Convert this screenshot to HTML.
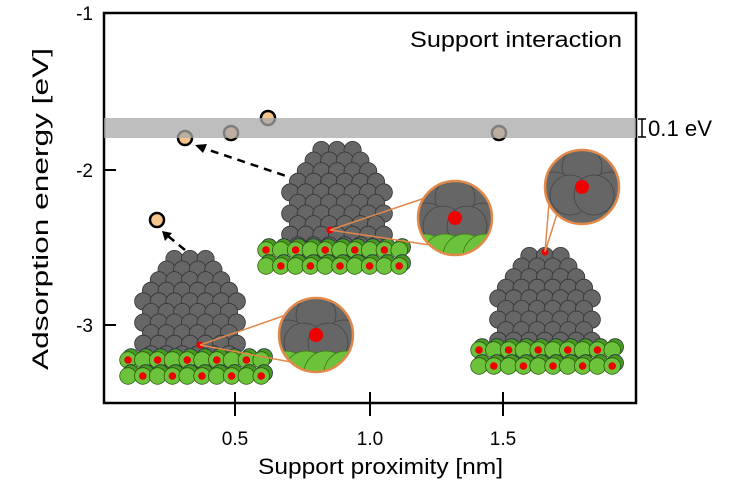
<!DOCTYPE html>
<html><head><meta charset="utf-8"><style>
html,body{margin:0;padding:0;background:#fff;width:739px;height:493px;overflow:hidden}
svg{display:block;font-family:"Liberation Sans",sans-serif}
</style></head><body>
<svg id="s" width="739" height="493" viewBox="0 0 739 493" xmlns="http://www.w3.org/2000/svg">
<defs>
<clipPath id="c1"><circle cx="455" cy="218" r="37"/></clipPath>
<clipPath id="c2"><circle cx="582" cy="187" r="37"/></clipPath>
<clipPath id="c3"><circle cx="316" cy="335" r="37"/></clipPath>
</defs>
<rect x="104" y="13" width="532" height="390" fill="none" stroke="#000" stroke-width="2.5"/>
<g stroke="#000" stroke-width="2">
<line x1="104" y1="170" x2="116" y2="170"/><line x1="104" y1="325" x2="116" y2="325"/>
<line x1="235" y1="392" x2="235" y2="416"/><line x1="370" y1="392" x2="370" y2="416"/><line x1="503" y1="392" x2="503" y2="416"/>
</g>
<g font-size="19" fill="#000" text-anchor="end">
<text x="93" y="20">-1</text><text x="93" y="177">-2</text><text x="93" y="332">-3</text>
</g>
<g font-size="19" text-anchor="middle">
<text x="235" y="445">0.5</text><text x="370" y="445">1.0</text><text x="503" y="445">1.5</text>
</g>
<text x="258" y="474" font-size="22" textLength="245" lengthAdjust="spacingAndGlyphs">Support proximity [nm]</text>
<text transform="translate(48,370) rotate(-90)" font-size="22" textLength="322" lengthAdjust="spacingAndGlyphs">Adsorption energy [eV]</text>
<text x="410" y="47" font-size="22" textLength="212" lengthAdjust="spacingAndGlyphs">Support interaction</text>
<g id="pts" stroke="#000" stroke-width="2.5" fill="#f5c48c">
<circle cx="185" cy="138" r="7"/><circle cx="231" cy="133" r="7"/><circle cx="268" cy="118" r="7"/><circle cx="499" cy="133" r="7"/><circle cx="157" cy="220" r="7"/>
</g>
<rect x="104" y="118" width="532" height="20" fill="#a8a8a8" opacity="0.75"/>
<g stroke="#000" stroke-width="1.5"><line x1="642" y1="119" x2="642" y2="137"/><line x1="638" y1="119" x2="646" y2="119"/><line x1="638" y1="137" x2="646" y2="137"/></g>
<text x="648" y="136" font-size="22" textLength="64" lengthAdjust="spacingAndGlyphs">0.1 eV</text>
<g stroke="#000" stroke-width="2.5" stroke-dasharray="8,6" fill="none">
<line x1="298" y1="180" x2="203" y2="148"/><line x1="185" y1="250" x2="168" y2="236"/>
</g>
<polygon points="195,145 207,144 203,153" fill="#000"/>
<polygon points="162,231 172,233 165,241" fill="#000"/>
<g id="g"></g>
</svg>
<script>
var NS="http://www.w3.org/2000/svg",g=document.getElementById("g");
function c(x,y,r,f,st,par){var e=document.createElementNS(NS,"circle");e.setAttribute("cx",x);e.setAttribute("cy",y);e.setAttribute("r",r);e.setAttribute("fill",f);if(st){e.setAttribute("stroke",st);e.setAttribute("stroke-width",0.8);}(par||g).appendChild(e);return e;}
function slab(x0,y0,n){for(var row=0;row<2;row++){for(var i=0;i<n;i++){var x=x0+i*14.8,y=y0+row*16;c(x+3,y-3,8.3,"#4a9a22","#234");c(x,y,8.3,"#6cc23a","#2a5a10");if(i%2==(row?1:0))c(x,y,3.8,"#e00");}}}
function cluster(cx,top,rows){var r=8.6,dy=10.6;for(var j=0;j<rows.length;j++){var n=rows[j],y=top+j*dy;for(var i=0;i<n;i++){var x=cx+(i-(n-1)/2)*15.6;c(x,y,r,"#666","#333");}}}
var shape=[3,4,5,6,7,6,7,6,7,6,5];
cluster(190,259,shape);slab(128,360,10);
cluster(337,150,shape);slab(266,250,10);
cluster(545,256,shape);slab(479,350,10);
c(200,345,3.5,"#e00");c(330,230,3.5,"#e00");c(545,252,3.5,"#e00");
function zoom(cx,cy,sx,sy,clip,green){var grp=document.createElementNS(NS,"g");grp.setAttribute("clip-path","url(#"+clip+")");
 var l=document.createElementNS(NS,"path");l.setAttribute("d","M"+sx+","+sy+"L"+(cx-30)+","+(cy-20)+"M"+sx+","+sy+"L"+(cx-25)+","+(cy+27));l.setAttribute("stroke","#e0894a");l.setAttribute("stroke-width","1.5");l.setAttribute("fill","none");g.appendChild(l);g.appendChild(grp);
 c(cx,cy,37,"#666",null,grp);
 [[-22,-25],[22,-25],[0,-20],[-28,5],[28,5],[-12,8],[12,8]].forEach(function(p){c(cx+p[0],cy+p[1],20,"#666","#444",grp);});
 if(green){[-30,-10,10,30].forEach(function(d){c(cx+d,cy+38,22,"#6cc23a","#3a7a1a",grp);});}
 c(cx,cy,7,"#e00",null,grp);
 var o=c(cx,cy,37,"none");o.setAttribute("stroke","#e0894a");o.setAttribute("stroke-width","2.5");}
zoom(455,218,330,230,"c1",true);
zoom(582,187,545,252,"c2",false);
zoom(316,335,200,345,"c3",true);
</script>
</body></html>
